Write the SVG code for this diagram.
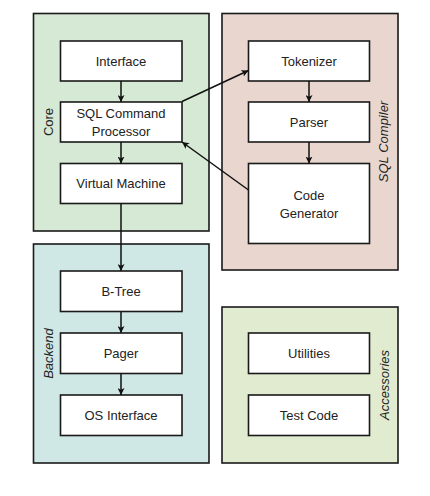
<svg xmlns="http://www.w3.org/2000/svg" width="430" height="496" viewBox="0 0 430 496">
<style>
.grp{stroke:#1a1a1a;stroke-width:1.6}
.node{fill:#ffffff;stroke:#1a1a1a;stroke-width:1.6}
.t{font-family:"Liberation Sans",Arial,sans-serif;font-size:13px;fill:#222;text-anchor:middle}
.gl{font-family:"Liberation Sans",Arial,sans-serif;font-size:13px;fill:#222;text-anchor:middle;font-style:italic}
.c{stroke:#111;stroke-width:1.5;fill:none;marker-end:url(#ah)}
</style>
<defs>
<marker id="ah" viewBox="0 0 10 10" refX="10" refY="5" markerWidth="7" markerHeight="7" markerUnits="userSpaceOnUse" orient="auto">
<path d="M0,0 L10,5 L0,10 L2.5,5 Z" fill="#111"/>
</marker>
</defs>
<rect width="430" height="496" fill="#ffffff"/>
<g id="core">
<rect class="grp" x="33.5" y="13.5" width="175.5" height="217.5" fill="#d6e9d4"/>
<text class="t" transform="translate(52.5,122) rotate(-90)">Core</text>
</g>
<g id="sql-compiler">
<rect class="grp" x="222" y="13.5" width="176" height="256.5" fill="#e9d7cf"/>
<text class="gl" transform="translate(387.5,141.5) rotate(-90)">SQL Compiler</text>
</g>
<g id="backend">
<rect class="grp" x="33.5" y="244" width="175.5" height="219" fill="#d0e8e5"/>
<text class="gl" transform="translate(53,353.5) rotate(-90)">Backend</text>
</g>
<g id="accessories">
<rect class="grp" x="222" y="307" width="176" height="156" fill="#e1ebd0"/>
<text class="gl" transform="translate(388.5,385) rotate(-90)">Accessories</text>
</g>
<g id="interface">
<rect class="node" x="60.5" y="41" width="121.5" height="40"/>
<text class="t" x="121" y="65.5">Interface</text>
</g>
<g id="sql-command-processor">
<rect class="node" x="60.5" y="102" width="121.5" height="40"/>
<text class="t" x="121" y="117.5">SQL Command</text>
<text class="t" x="121" y="136">Processor</text>
</g>
<g id="virtual-machine">
<rect class="node" x="60.5" y="163.5" width="121.5" height="40"/>
<text class="t" x="121" y="188">Virtual Machine</text>
</g>
<g id="tokenizer">
<rect class="node" x="248.5" y="41" width="121" height="40"/>
<text class="t" x="309" y="65.5">Tokenizer</text>
</g>
<g id="parser">
<rect class="node" x="248.5" y="102" width="121" height="40"/>
<text class="t" x="309" y="126.5">Parser</text>
</g>
<g id="code-generator">
<rect class="node" x="248.5" y="163.5" width="121" height="80"/>
<text class="t" x="309" y="200">Code</text>
<text class="t" x="309" y="218">Generator</text>
</g>
<g id="b-tree">
<rect class="node" x="60.5" y="271" width="121.5" height="40.5"/>
<text class="t" x="121" y="296">B-Tree</text>
</g>
<g id="pager">
<rect class="node" x="60.5" y="333" width="121.5" height="40.5"/>
<text class="t" x="121" y="358">Pager</text>
</g>
<g id="os-interface">
<rect class="node" x="60.5" y="395" width="121.5" height="40.5"/>
<text class="t" x="121" y="420">OS Interface</text>
</g>
<g id="utilities">
<rect class="node" x="248.5" y="333" width="121" height="40.5"/>
<text class="t" x="309" y="358">Utilities</text>
</g>
<g id="test-code">
<rect class="node" x="248.5" y="395" width="121" height="40.5"/>
<text class="t" x="309" y="420">Test Code</text>
</g>
<g id="connectors">
<line class="c" x1="121" y1="81" x2="121" y2="102"/>
<line class="c" x1="121" y1="142" x2="121" y2="163.5"/>
<line class="c" x1="121" y1="203.5" x2="121" y2="271"/>
<line class="c" x1="121" y1="311.5" x2="121" y2="333"/>
<line class="c" x1="121" y1="373.5" x2="121" y2="395"/>
<line class="c" x1="309" y1="81" x2="309" y2="102"/>
<line class="c" x1="309" y1="142" x2="309" y2="163.5"/>
<line class="c" x1="182" y1="101.5" x2="248.5" y2="70.5"/>
<line class="c" x1="248.5" y1="190" x2="182" y2="142"/>
</g>
</svg>
